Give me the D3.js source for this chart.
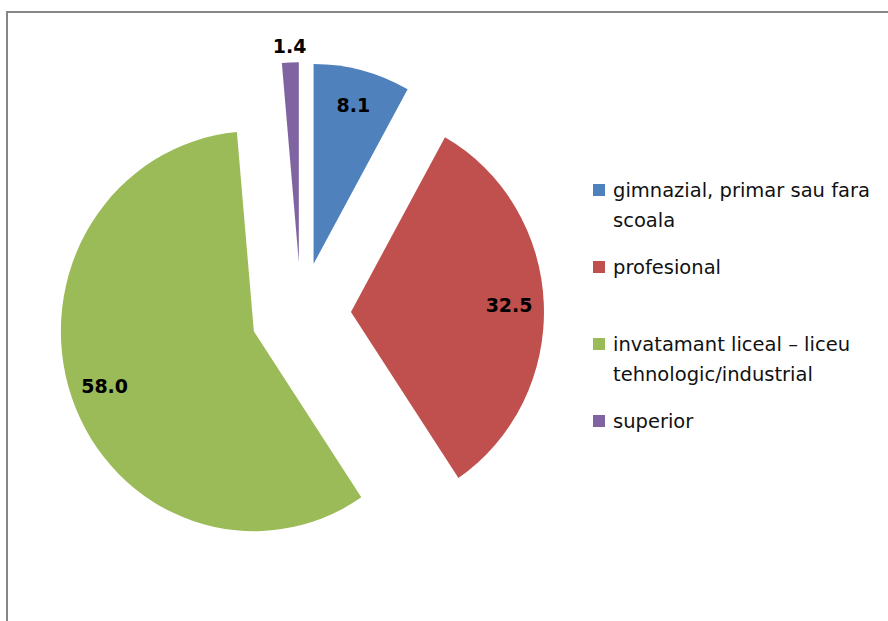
<!DOCTYPE html>
<html>
<head>
<meta charset="utf-8">
<script src="https://cdn.jsdelivr.net/npm/d3@7"></script>
<style>
  html, body { margin: 0; padding: 0; background: #fff; }
  svg { display: block; }
</style>
</head>
<body>
<svg id="chart" width="888" height="621"></svg>
<script>
const categories = [
  ['gimnazial, primar sau fara', 'scoala'],
  ['profesional'],
  ['invatamant liceal \u2013 liceu', 'tehnologic/industrial'],
  ['superior']
];
const values = [8.1, 32.5, 58.0, 1.4];
const colors = ['#4f81bd', '#c0504d', '#9bbb59', '#8064a2'];

const svg = d3.select('#chart');

// chart frame (runs off the right and bottom of the picture)
svg.append('rect')
  .attr('x', 7)
  .attr('y', 12)
  .attr('width', 900)
  .attr('height', 700)
  .attr('fill', 'none')
  .attr('stroke', '#868686')
  .attr('stroke-width', 2);

const cx = 301, cy = 314;
const radius = 193;
const stretch = 1.036;   // the pie is slightly taller than wide
const explode = 50;

const pie = d3.pie().sort(null).value((d) => d);
const arcs = pie(values);

const arc = d3.arc().innerRadius(0).outerRadius(radius);

const pieGroup = svg.append('g')
  .attr('transform', `translate(${cx},${cy}) scale(1,${stretch})`);

function midAngle(d) {
  return (d.startAngle + d.endAngle) / 2;
}

// thin slices get their label outside
function labelRadius(d) {
  return (d.endAngle - d.startAngle) < 0.2 ? radius + 16 : radius * 0.82;
}

pieGroup.selectAll('path.slice')
  .data(arcs)
  .enter()
  .append('path')
  .attr('class', 'slice')
  .attr('d', arc)
  .attr('fill', (d, i) => colors[i])
  .attr('transform', (d) => {
    const a = midAngle(d);
    return `translate(${explode * Math.sin(a)},${-explode * Math.cos(a)})`;
  });

svg.selectAll('text.value')
  .data(arcs)
  .enter()
  .append('text')
  .attr('class', 'value')
  .attr('x', (d) => cx + (explode + labelRadius(d)) * Math.sin(midAngle(d)))
  .attr('y', (d) => cy - (explode + labelRadius(d)) * Math.cos(midAngle(d)) * stretch)
  .attr('dy', '0.36em')
  .attr('text-anchor', 'middle')
  .attr('font-family', 'DejaVu Sans, sans-serif')
  .attr('font-weight', 'bold')
  .attr('font-size', '19px')
  .attr('fill', '#000')
  .text((d) => d.value.toFixed(1));

// legend
const legend = svg.append('g').attr('transform', 'translate(593,197)');
const legendStep = 77;

const items = legend.selectAll('g.item')
  .data(categories)
  .enter()
  .append('g')
  .attr('class', 'item')
  .attr('transform', (d, i) => `translate(0,${i * legendStep})`);

items.append('rect')
  .attr('x', 0)
  .attr('y', -13)
  .attr('width', 12)
  .attr('height', 12)
  .attr('fill', (d, i) => colors[i]);

items.append('text')
  .attr('font-family', 'DejaVu Sans, sans-serif')
  .attr('font-size', '19.5px')
  .attr('fill', '#111')
  .selectAll('tspan')
  .data((d) => d)
  .enter()
  .append('tspan')
  .attr('x', 20)
  .attr('y', (d, j) => j * 30)
  .text((d) => d);
</script>
</body>
</html>
